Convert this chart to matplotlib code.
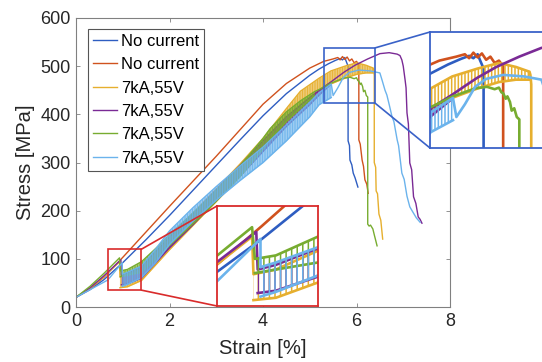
import matplotlib
matplotlib.use('Agg')
import matplotlib.pyplot as plt
from matplotlib.patches import Rectangle, ConnectionPatch

plt.rcParams['font.family'] = ['Liberation Sans', 'DejaVu Sans']

# curve data (strain in %, stress in MPa)
# no current, first sample (blue)
nc1_x = [0, 0.3, 0.6, 1.0, 1.5, 2.0, 2.5, 3.0, 3.5, 4.0, 4.5, 5.0, 5.2, 5.4, 5.55, 5.65, 5.7, 5.75,
         5.78, 5.82, 5.82, 5.85, 5.86, 5.90, 5.93, 5.97, 6.03]
nc1_y = [20, 36, 57, 92, 140, 190, 242, 294, 346, 397, 443, 481, 494, 505, 512, 516, 513, 518,
         510, 500, 345, 335, 305, 295, 278, 268, 249]
# no current, second sample (red)
nc2_x = [0, 0.3, 0.6, 1.0, 1.5, 2.0, 2.5, 3.0, 3.5, 4.0, 4.5, 5.0, 5.3, 5.5, 5.6, 5.65, 5.7, 5.75,
         5.8, 5.85, 5.9, 5.95, 6.0, 6.05, 6.05, 6.08, 6.12, 6.15, 6.18, 6.22, 6.25]
nc2_y = [20, 38, 62, 103, 156, 209, 261, 313, 367, 421, 464, 496, 510, 515, 518, 513, 520, 514,
         519, 511, 515, 507, 510, 503, 347, 338, 305, 292, 264, 255, 236]

# 7kA,55V samples: rise before first pulse, sawtooth band (tops / bottoms), tail
ye_pre_x = [0, 0.3, 0.6, 0.93]
ye_pre_y = [20, 39, 63, 94]
ye_band_x = [0.94, 1.1, 1.4, 2.0, 2.5, 3.0, 3.5, 4.0, 4.5, 4.8, 5.2, 5.45, 5.75, 6.0, 6.2, 6.36]
ye_band_hi = [62, 66, 82, 145, 195, 245, 296, 350, 412, 448, 475, 490, 500, 507, 502, 496]
ye_band_lo = [40, 42, 55, 119, 169, 219, 270, 324, 385, 420, 448, 463, 475, 483, 486, 486]
ye_tail_x = [6.37, 6.38, 6.38, 6.41, 6.42, 6.45, 6.48, 6.52, 6.56]
ye_tail_y = [492, 480, 300, 290, 241, 235, 193, 180, 141]

pu_pre_x = [0, 0.3, 0.6, 0.96]
pu_pre_y = [20, 40, 65, 98]
pu_band_x = [0.97, 1.1, 1.4, 2.0, 2.5, 3.0, 3.5, 4.0, 4.5, 5.0, 5.2, 5.45]
pu_band_hi = [66, 70, 84, 145, 193, 243, 293, 345, 395, 435, 450, 467]
pu_band_lo = [46, 48, 60, 123, 171, 221, 271, 323, 375, 420, 440, 462]
pu_tail_x = [5.6, 5.74, 5.97, 6.24, 6.5, 6.7, 6.87, 6.93, 6.97, 7.0, 7.04, 7.06, 7.08, 7.11,
             7.14, 7.18, 7.22, 7.27, 7.32, 7.36, 7.40]
pu_tail_y = [478, 488, 502, 515, 526, 528, 525, 522, 513, 500, 471, 455, 403, 380,
             299, 285, 229, 215, 187, 182, 174]

gr_pre_x = [0, 0.3, 0.6, 0.93]
gr_pre_y = [20, 43, 70, 102]
gr_band_x = [0.95, 1.1, 1.4, 1.8, 2.0, 2.5, 2.8, 3.0, 3.5, 4.0, 4.15, 4.5, 4.8, 5.1]
gr_band_hi = [75, 78, 94, 130, 150, 195, 222, 242, 292, 350, 370, 405, 428, 447]
gr_band_lo = [63, 66, 72, 108, 128, 173, 200, 220, 270, 328, 348, 385, 412, 438]
gr_tail_x = [5.21, 5.46, 5.72, 5.86, 5.95, 6.0, 6.03, 6.05, 6.08, 6.1, 6.13, 6.15, 6.18, 6.21,
             6.24, 6.24, 6.27, 6.30, 6.35, 6.38, 6.44]
gr_tail_y = [452, 465, 475, 477, 474, 476, 470, 469, 462, 465, 458, 447, 450, 439,
             436, 172, 168, 170, 162, 150, 127]

lb_pre_x = [0, 0.3, 0.68, 0.99]
lb_pre_y = [20, 36, 56, 92]
lb_band_x = [0.99, 1.1, 1.4, 1.7, 2.0, 2.5, 3.0, 3.5, 4.0, 4.5, 5.0, 5.2, 5.46]
lb_band_hi = [68, 72, 85, 120, 158, 206, 250, 292, 332, 378, 425, 445, 463]
lb_band_lo = [43, 47, 61, 92, 130, 178, 222, 262, 300, 345, 395, 420, 435]
lb_tail_x = [5.50, 5.6, 5.72, 5.85, 6.05, 6.3, 6.5, 6.55, 6.61, 6.65, 6.7, 6.76, 6.8, 6.87,
             6.9, 6.97, 7.02, 7.08, 7.14, 7.2, 7.28, 7.36]
lb_tail_y = [439, 455, 477, 487, 492, 490, 486, 470, 450, 440, 420, 395, 385, 347,
             335, 278, 265, 230, 208, 198, 185, 176]

labels = ['No current', 'No current', '7kA,55V', '7kA,55V', '7kA,55V', '7kA,55V']
c_blue = '#2E5DC1'
c_red = '#D0521E'
c_yel = '#E6AF2E'
c_pur = '#7A2A95'
c_gre = '#77AC30'
c_lbl = '#6BB3EC'
frame_red = '#D92B2B'
frame_blue = '#3A62C8'

current = [
    (ye_pre_x, ye_pre_y, ye_band_x, ye_band_hi, ye_band_lo, ye_tail_x, ye_tail_y, c_yel),
    (pu_pre_x, pu_pre_y, pu_band_x, pu_band_hi, pu_band_lo, pu_tail_x, pu_tail_y, c_pur),
    (gr_pre_x, gr_pre_y, gr_band_x, gr_band_hi, gr_band_lo, gr_tail_x, gr_tail_y, c_gre),
    (lb_pre_x, lb_pre_y, lb_band_x, lb_band_hi, lb_band_lo, lb_tail_x, lb_tail_y, c_lbl),
]


def draw_curves(a, lw, hatch, hatch_lw, face_alpha):
    a.plot(nc1_x, nc1_y, color=c_blue, lw=lw, label=labels[0], zorder=2)
    a.plot(nc2_x, nc2_y, color=c_red, lw=lw, label=labels[1], zorder=2.1)
    for i, (px, py, bx, bhi, blo, tx, ty, c) in enumerate(current):
        z = 2.2 + i * 0.1
        a.plot(px + bx + tx, py + bhi + ty, color=c, lw=lw, label=labels[2 + i], zorder=z)
        a.plot(bx, blo, color=c, lw=lw, zorder=z)
        if face_alpha > 0:
            a.fill_between(bx, blo, bhi, color=c, alpha=face_alpha, linewidth=0, zorder=z)
        plt.rcParams['hatch.linewidth'] = hatch_lw
        fb = a.fill_between(bx, blo, bhi, facecolor='none', edgecolor=c, hatch=hatch,
                            linewidth=0, zorder=z)
        if hasattr(fb, 'set_hatch_linewidth'):
            fb.set_hatch_linewidth(hatch_lw)


fig = plt.figure(figsize=(5.42, 3.62), dpi=100)
ax = fig.add_axes([76 / 542, 55 / 362, 374 / 542, 289 / 362])
draw_curves(ax, 1.0, '||||||||||', 0.6, 0.55)

ax.set_xlim(0, 8)
ax.set_ylim(0, 600)
ax.set_xticks([0, 2, 4, 6, 8])
ax.set_yticks([0, 100, 200, 300, 400, 500, 600])
ax.tick_params(direction='in', top=True, right=True, length=3, width=0.6, color='#808080',
               labelsize=13, labelcolor='#262626', pad=4)
for s in ax.spines.values():
    s.set_color('#808080')
    s.set_linewidth(0.8)
ax.set_xlabel('Strain [%]', fontsize=14.5, color='#262626', labelpad=7)
ax.set_ylabel('Stress [MPa]', fontsize=14.5, color='#262626', labelpad=4)

leg = ax.legend(loc='upper left', bbox_to_anchor=(0.032, 0.962), borderaxespad=0, fontsize=12,
                fancybox=False, edgecolor='#555555', framealpha=1, handlelength=1.45,
                handletextpad=0.25, labelspacing=0.5, borderpad=0.3)
leg.get_frame().set_linewidth(0.8)
leg.set_zorder(10)

# boxes marking the zoomed regions
ax.add_patch(Rectangle((0.68, 35), 0.72, 85, fill=False, ec=frame_red, lw=1.2, zorder=6))
ax.add_patch(Rectangle((5.30, 423), 1.10, 115, fill=False, ec=frame_blue, lw=1.2, zorder=6))

# zoom insets
axr = fig.add_axes([217 / 542, (362 - 306) / 362, 101 / 542, 100 / 362])
draw_curves(axr, 1.9, '|||', 1.1, 0)
axr.set_xlim(0.68, 1.40)
axr.set_ylim(35, 120)

axb = fig.add_axes([430 / 542, (362 - 148) / 362, 114 / 542, 116 / 362])
draw_curves(axb, 1.9, '|||||', 1.1, 0)
axb.set_xlim(5.19, 6.53)
axb.set_ylim(400, 546)

for a, c in [(axr, frame_red), (axb, frame_blue)]:
    a.set_xticks([])
    a.set_yticks([])
    for s in a.spines.values():
        s.set_color(c)
        s.set_linewidth(1.3)

for (xa, ya), (xb, yb), a, c in [((1.40, 120), (0, 1), axr, frame_red),
                                 ((1.40, 35), (0, 0), axr, frame_red),
                                 ((6.40, 538), (0, 1), axb, frame_blue),
                                 ((6.40, 423), (0, 0), axb, frame_blue)]:
    con = ConnectionPatch(xyA=(xa, ya), coordsA=ax.transData, xyB=(xb, yb),
                          coordsB=a.transAxes, color=c, lw=1.2)
    fig.add_artist(con)

plt.savefig('out.png', dpi=100)
